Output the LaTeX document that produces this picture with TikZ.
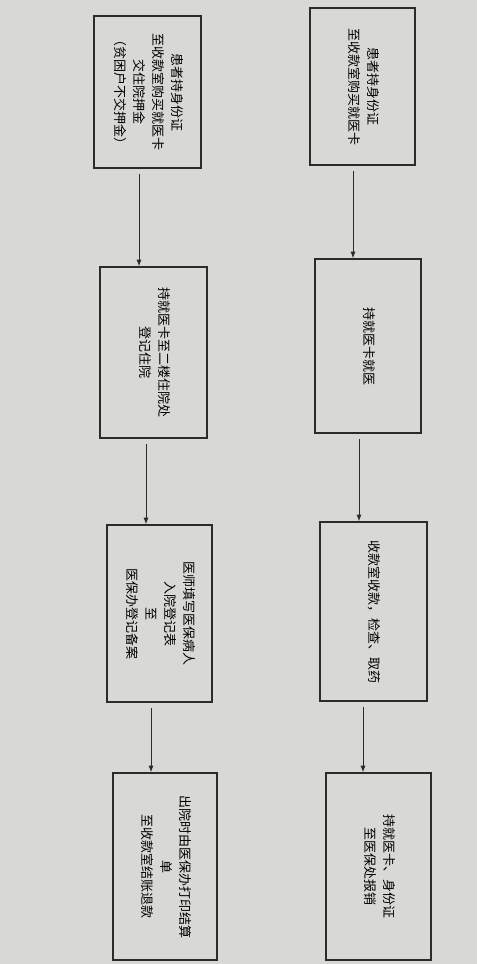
\documentclass[tikz,border=0pt]{standalone}
\usepackage{fontspec}
\usepackage{graphicx}
\setmainfont{Noto Sans CJK SC}
\usetikzlibrary{arrows.meta,positioning}
\definecolor{paper}{HTML}{D8D8D5}
\definecolor{inkgray}{HTML}{2B2B2B}
\newcommand{\vtext}[1]{\rotatebox{-90}{\begin{tabular}{@{}c@{}}#1\end{tabular}}}
\tikzset{
  stepbox/.style={draw=inkgray,line width=1.1pt,fill=paper,inner sep=0pt,align=center,font=\fontsize{13}{19}\selectfont},
  flow/.style={-{Latex[length=2.4mm,width=1.8mm]},line width=1pt,draw=inkgray,shorten <=5pt}
}
\begin{document}
\begin{tikzpicture}[x=1pt,y=1pt]
  \fill[paper] (0,0) rectangle (477,-964);
  \useasboundingbox (0,0) rectangle (477,-964);
  % right column
  \node[stepbox,minimum width=105pt,minimum height=157pt] (card) at (362.5,-86.5) {\vtext{患者持身份证\\至收款室购买就医卡}};
  \node[stepbox,minimum width=106pt,minimum height=174pt] (visit) at (368,-346) {\vtext{持就医卡就医}};
  \node[stepbox,minimum width=107pt,minimum height=179pt] (pay) at (373.5,-611.5) {\vtext{收款室收款，检查、取药}};
  \node[stepbox,minimum width=105pt,minimum height=187pt] (claim) at (378.5,-866.5) {\vtext{持就医卡、身份证\\至医保处报销}};
  % left column
  \node[stepbox,minimum width=107pt,minimum height=152pt] (deposit) at (147.5,-92) {\vtext{患者持身份证\\至收款室购买就医卡\\交住院押金\\（贫困户不交押金）}};
  \node[stepbox,minimum width=107pt,minimum height=171pt] (admit) at (153.5,-352.5) {\vtext{持就医卡至二楼住院处\\登记住院}};
  \node[stepbox,minimum width=105pt,minimum height=177pt] (record) at (159.5,-613.5) {\vtext{医师填写医保病人\\入院登记表\\至\\医保办登记备案}};
  \node[stepbox,minimum width=104pt,minimum height=187pt] (settle) at (165,-866.5) {\vtext{出院时由医保办打印结算\\单\\至收款室结账退款}};
  \draw[flow] ([xshift=-9.5pt]card.south) -- ([xshift=-9.5pt]card.south |- visit.north);
  \draw[flow] ([xshift=-9pt]visit.south) -- ([xshift=-9pt]visit.south |- pay.north);
  \draw[flow] ([xshift=-10.5pt]pay.south) -- ([xshift=-10.5pt]pay.south |- claim.north);
  \draw[flow] ([xshift=-8.5pt]deposit.south) -- ([xshift=-8.5pt]deposit.south |- admit.north);
  \draw[flow] ([xshift=-7.5pt]admit.south) -- ([xshift=-7.5pt]admit.south |- record.north);
  \draw[flow] ([xshift=-8.5pt]record.south) -- ([xshift=-8.5pt]record.south |- settle.north);
\end{tikzpicture}
\end{document}
